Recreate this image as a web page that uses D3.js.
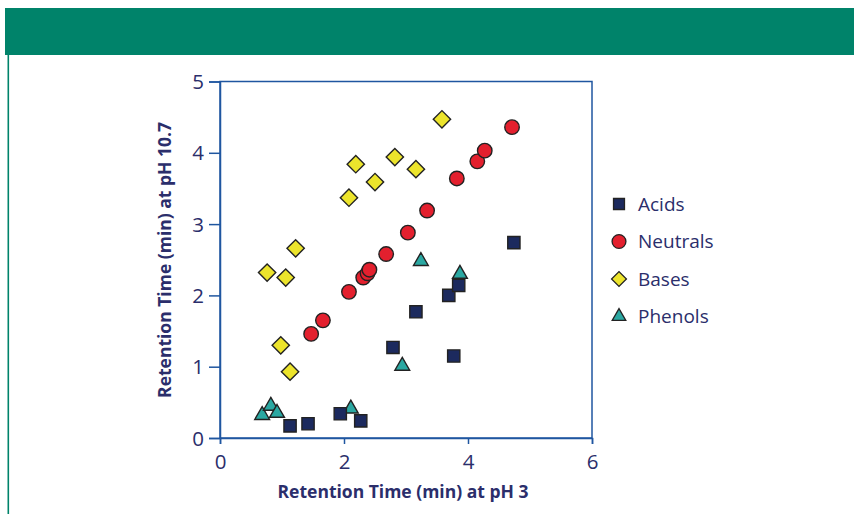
<!DOCTYPE html>
<html><head><meta charset="utf-8">
<script src="https://cdn.jsdelivr.net/npm/d3@7"></script>
<style>body{margin:0;background:#fff;} svg{display:block;font-family:"Open Sans",sans-serif;}</style>
</head><body><svg id="c" width="854" height="514"></svg>
<script>
const seriesNames = ["Acids","Neutrals","Bases","Phenols"];
const acidsX = [1.13,1.42,1.94,2.27,2.79,3.16,3.69,3.85,3.77,4.74];
const acidsY = [0.17,0.20,0.34,0.24,1.27,1.77,2.00,2.14,1.15,2.74];
const neutralsX = [1.47,1.66,2.08,2.31,2.38,2.41,2.68,3.03,3.34,3.82,4.15,4.27,4.71];
const neutralsY = [1.46,1.65,2.05,2.25,2.31,2.36,2.58,2.88,3.19,3.64,3.88,4.03,4.36];
const basesX = [0.76,1.06,1.22,0.98,1.13,2.08,2.19,2.50,2.82,3.16,3.58];
const basesY = [2.32,2.25,2.66,1.30,0.93,3.37,3.84,3.59,3.94,3.77,4.47];
const phenolsX = [0.68,0.82,0.92,2.11,2.94,3.24,3.87];
const phenolsY = [0.32,0.45,0.35,0.41,1.01,2.48,2.30];
const xTicks = [0,2,4,6];
const yTicks = [0,1,2,3,4,5];
const xTitle = "Retention Time (min) at pH 3";
const yTitle = "Retention Time (min) at pH 10.7";

const svg = d3.select("#c");
const green = "#00836a", axisCol = "#1f56a0", textCol = "#2b2e6b";
svg.append("rect").attr("x",5).attr("y",8).attr("width",849).attr("height",47).attr("fill",green);
svg.append("rect").attr("x",7.5).attr("y",55).attr("width",1.6).attr("height",459).attr("fill",green);

const x = d3.scaleLinear().domain([0,6]).range([220,592]);
const y = d3.scaleLinear().domain([0,5]).range([438,81.5]);

// frame
svg.append("rect").attr("x",x(0)).attr("y",y(5)).attr("width",x(6)-x(0)).attr("height",y(0)-y(5))
  .attr("fill","none").attr("stroke",axisCol).attr("stroke-width",1.5);

const xa = svg.append("g").attr("transform",`translate(0,${y(0)})`)
  .call(d3.axisBottom(x).tickValues(xTicks).tickSize(6).tickPadding(8).tickFormat(d3.format("d")));
const ya = svg.append("g").attr("transform",`translate(${x(0)},0)`)
  .call(d3.axisLeft(y).tickValues(yTicks).tickSize(11).tickPadding(5).tickFormat(d3.format("d")));
[xa,ya].forEach(g=>{
  g.select(".domain").attr("stroke",axisCol).attr("stroke-width",1.5);
  g.selectAll(".tick line").attr("stroke",axisCol).attr("stroke-width",1.5);
  g.selectAll(".tick text").attr("fill",textCol).attr("font-size",20.5).attr("font-family","Open Sans, sans-serif");
});
xa.selectAll(".tick text").attr("dy","0.85em");
ya.selectAll(".tick text").attr("dy","0.35em");

svg.append("text").attr("x",403).attr("y",498).attr("text-anchor","middle")
  .attr("font-weight","bold").attr("font-size",17.5).attr("fill",textCol).text(xTitle);
svg.append("text").attr("transform",`translate(171,260) rotate(-90)`).attr("text-anchor","middle")
  .attr("font-weight","bold").attr("font-size",17.5).attr("fill",textCol).text(yTitle);

const styles = {
  Acids:{type:d3.symbolSquare,size:150,fill:"#1c2a5e"},
  Neutrals:{type:d3.symbolCircle,size:165,fill:"#e3202e"},
  Bases:{type:d3.symbolSquare,size:150,fill:"#ece42c"},
  Phenols:{type:d3.symbolTriangle,size:95,fill:"#2ba8a2"}
};
const data = {
  Bases: basesX.map((v,i)=>[v,basesY[i]]),
  Neutrals: neutralsX.map((v,i)=>[v,neutralsY[i]]),
  Acids: acidsX.map((v,i)=>[v,acidsY[i]]),
  Phenols: phenolsX.map((v,i)=>[v,phenolsY[i]])
};
["Bases","Neutrals","Phenols","Acids"].forEach(name=>{
  svg.append("g").selectAll("path").data(data[name]).join("path")
    .attr("d",d3.symbol().type(styles[name].type).size(styles[name].size)())
    .attr("transform",d=>`translate(${x(d[0])},${y(d[1])})`+(name==="Bases"?" rotate(45)":""))
    .attr("fill",styles[name].fill).attr("stroke","#222").attr("stroke-width",1.4);
});

// legend
const leg = svg.append("g");
seriesNames.forEach((name,i)=>{
  const ly = 204 + i*37.5;
  const sz = {Acids:120,Neutrals:150,Bases:110,Phenols:80}[name];
  leg.append("path").attr("d",d3.symbol().type(styles[name].type).size(sz)())
    .attr("transform",`translate(619,${ly})`+(name==="Bases"?" rotate(45)":""))
    .attr("fill",styles[name].fill).attr("stroke","#222").attr("stroke-width",1.3);
  leg.append("text").attr("x",638).attr("y",ly).attr("dy","0.35em").attr("font-size",19)
    .attr("fill",textCol).text(name);
});
</script></body></html>
